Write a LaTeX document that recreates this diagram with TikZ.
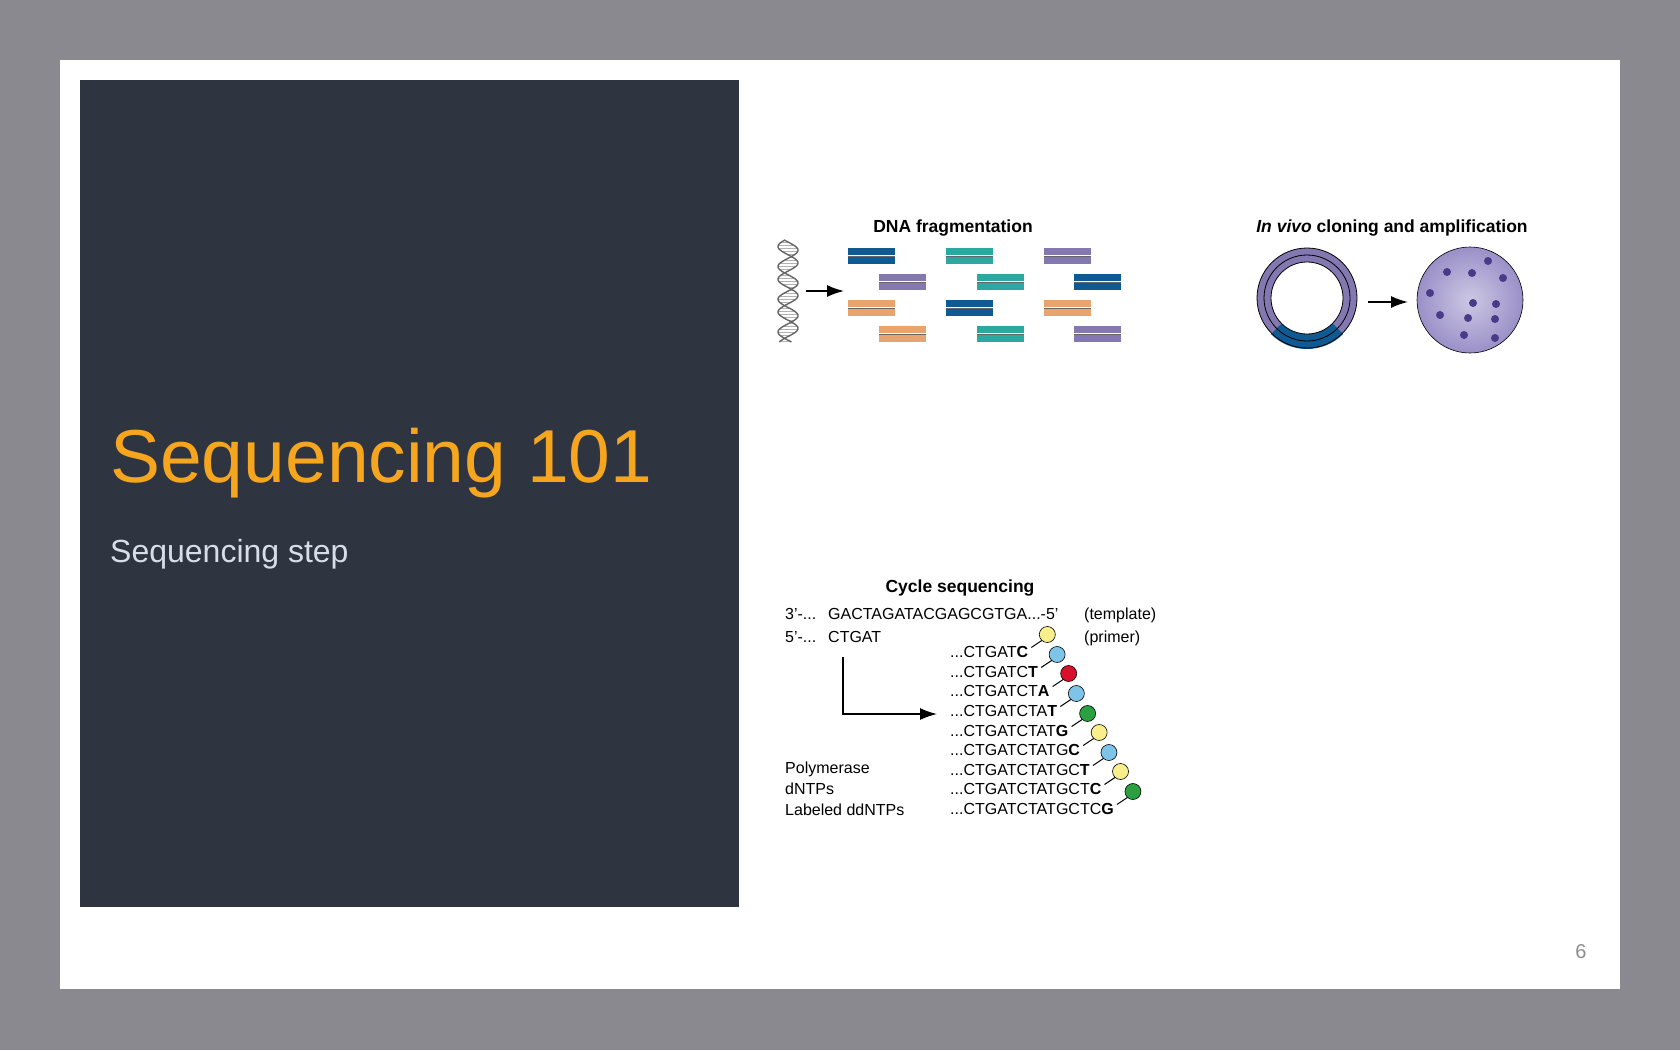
\documentclass[tikz,border=0pt]{standalone}
\usepackage{fontspec}
\setmainfont{Liberation Sans}
\usetikzlibrary{arrows.meta}
\definecolor{bgout}{HTML}{8A8990}
\definecolor{panel}{HTML}{2E3440}
\definecolor{ttl}{HTML}{F5A61E}
\definecolor{sub}{HTML}{D8DEE9}
\definecolor{dblue}{HTML}{0F5A92}
\definecolor{teal}{HTML}{2BA8A0}
\definecolor{purp}{HTML}{8478B0}
\definecolor{orng}{HTML}{E8A46C}
\definecolor{yel}{HTML}{F8EE8C}
\definecolor{lblue}{HTML}{7EC4E8}
\definecolor{red1}{HTML}{D8102C}
\definecolor{grn}{HTML}{2AA040}
\definecolor{plate}{HTML}{9A90C8}
\definecolor{dot}{HTML}{4A3A8A}
\tikzset{
  txt/.style={inner sep=0pt,anchor=base west,font=\fontsize{16}{18}\selectfont},
  hdr/.style={inner sep=0pt,anchor=base,font=\fontsize{17.5}{20}\selectfont\bfseries},
  arr/.style={-{Latex[length=17pt,width=12pt]},line width=1.6pt}
}
\newcommand{\frag}[3]{%
  \fill[#3] (#1,#2) rectangle ++(47,7);
  \fill[#3] (#1,#2+9) rectangle ++(47,7);
  \draw[black!60,line width=0.6pt] (#1,#2+8) -- ++(47,0);}
\newcommand{\lolli}[2]{%
  \draw[line width=1pt] ([shift={(3,-4)}]#1.east) -- ++(12,-8) coordinate (bb);
  \fill[#2,draw=black,line width=0.6pt] ([shift={(4,-5)}]bb) circle (8);}
\begin{document}
\begin{tikzpicture}[x=1pt,y=-1pt]
\fill[bgout] (0,0) rectangle (1680,1050);
\fill[white] (60,60) rectangle (1620,989);
\fill[panel] (80,80) rectangle (739,907);
\node[inner sep=0pt,anchor=base west,text=ttl,font=\fontsize{75}{80}\selectfont] (title) at (110,482) {Sequencing 101};
\node[inner sep=0pt,anchor=base west,text=sub,font=\fontsize{32}{36}\selectfont] (subt) at (110,562) {Sequencing step};
\node[inner sep=0pt,anchor=base,text=black!45,font=\fontsize{20}{22}\selectfont] (pg) at (1581,958) {6};
% DNA fragmentation
\node[hdr] (h1) at (953,232) {DNA fragmentation};
\foreach \k in {0,...,33}{
  \pgfmathsetmacro{\yy}{242+\k*3}
  \pgfmathsetmacro{\xa}{788+10*sin((\yy-242)*11)}
  \pgfmathsetmacro{\xb}{788-10*sin((\yy-242)*11+40)}
  \draw[black!30,line width=0.5pt] (\xa,\yy) -- (\xb,\yy);
}
\draw[black!60,line width=1.4pt] plot[domain=240:342,samples=120] ({788+10*sin((\x-242)*11)},\x);
\draw[black!60,line width=1.4pt] plot[domain=240:342,samples=120] ({788-10*sin((\x-242)*11+40)},\x);
\frag{848}{248}{dblue}\frag{946}{248}{teal}\frag{1044}{248}{purp}
\frag{879}{274}{purp}\frag{977}{274}{teal}\frag{1074}{274}{dblue}
\frag{848}{300}{orng}\frag{946}{300}{dblue}\frag{1044}{300}{orng}
\frag{879}{326}{orng}\frag{977}{326}{teal}\frag{1074}{326}{purp}
\coordinate (a1) at (806,291); \coordinate (a2) at (844,291);
\draw[arr] (a1) -- (a2);
% In vivo
\node[hdr] (h2) at (1392,232) {\itshape In vivo\upshape\ cloning and amplification};
\fill[purp] (1307,298) circle (50);
\fill[dblue] (1307,298) -- ++(45:51) arc (45:135:51) -- cycle;
\fill[white] (1307,298) circle (36);
\draw[black,line width=0.8pt] (1307,298) circle (50) (1307,298) circle (36) (1307,298) circle (43);
\coordinate (b1) at (1368,302); \coordinate (b2) at (1408,302);
\draw[arr] (b1) -- (b2);
\shade[inner color=plate!50,outer color=plate] (1470,300) circle (53);
\draw[black,line width=0.6pt] (1470,300) circle (53);
\foreach \p in {(1488,261),(1447,272),(1472,273),(1503,278),(1430,293),(1473,303),(1496,304),(1440,315),(1468,318),(1495,319),(1464,335),(1495,338)}
  \fill[dot] \p circle (4);
% Cycle sequencing
\node[hdr] (h3) at (960,592) {Cycle sequencing};
\node[txt] (t1) at (785,619) {3'-...};
\node[txt] (t2) at (828,619) {GACTAGATACGAGCGTGA...-5'};
\node[txt] (t3) at (1084,619) {(template)};
\node[txt] (p1) at (785,642) {5'-...};
\node[txt] (p2) at (828,642) {CTGAT};
\node[txt] (p3) at (1084,642) {(primer)};
\node[txt] (s1) at (950,657) {...CTGAT{\bfseries C}};
\node[txt] (s2) at (950,677) {...CTGATC{\bfseries T}};
\node[txt] (s3) at (950,696) {...CTGATCT{\bfseries A}};
\node[txt] (s4) at (950,716) {...CTGATCTA{\bfseries T}};
\node[txt] (s5) at (950,736) {...CTGATCTAT{\bfseries G}};
\node[txt] (s6) at (950,755) {...CTGATCTATG{\bfseries C}};
\node[txt] (s7) at (950,775) {...CTGATCTATGC{\bfseries T}};
\node[txt] (s8) at (950,794) {...CTGATCTATGCT{\bfseries C}};
\node[txt] (s9) at (950,814) {...CTGATCTATGCTC{\bfseries G}};
\node[txt] (l1) at (785,773) {Polymerase};
\node[txt] (l2) at (785,794) {dNTPs};
\node[txt] (l3) at (785,815) {Labeled ddNTPs};
\lolli{s1}{yel}\lolli{s2}{lblue}\lolli{s3}{red1}\lolli{s4}{lblue}\lolli{s5}{grn}
\lolli{s6}{yel}\lolli{s7}{lblue}\lolli{s8}{yel}\lolli{s9}{grn}
\coordinate (e0) at (843,657); \coordinate (e1) at (843,714); \coordinate (e2) at (937,714);
\draw[arr,line width=1.4pt] (e0) -- (e1) -- (e2);
\end{tikzpicture}
\end{document}
